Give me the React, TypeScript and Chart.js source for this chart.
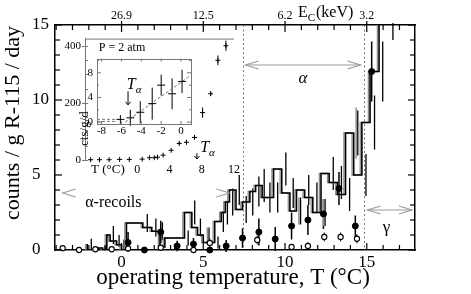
import React, { useEffect, useRef } from "react";
import { Chart, registerables } from "chart.js";

Chart.register(...registerables);

const SERIF = '"Liberation Serif", "Times New Roman", Times, serif';

// ---------- main axes ----------
const tempMin = -4.07;
const tempMax = 17.95;
const rateMin = 0;
const rateMax = 15;
const majorTemps = [0, 5, 10, 15];
const ecLabels = ["26.9", "12.5", "6.2", "3.2"];
const majorRates = [0, 5, 10, 15];

// ---------- histogram (black) ----------
const histEdges = [-2.1, -1.6, -1.15, -0.9, -0.7, -0.3, 0.0, 0.3, 1.3, 1.85, 2.35, 2.65, 3.85, 4.3, 4.65, 5.0, 5.7, 6.1, 6.35, 6.6, 7.0, 7.4, 7.85, 8.2, 8.6, 8.85, 9.3, 9.8, 10.3, 10.7, 11.2, 11.7, 12.2, 12.7, 13.2, 13.7, 14.2, 14.7, 15.2, 15.75, 16.2, 17.0];
const histCounts = [0.4, 0, 0.13, 0, 1.0, 0.6, 0.35, 0, 1.8, 1.5, 1.25, 0.2, 0.8, 2.5, 1.5, 1.0, 0.5, 1.9, 2.5, 3.2, 4.0, 2.7, 3.2, 3.9, 4.3, 3.5, 3.5, 5.4, 3.8, 2.6, 4.0, 3.5, 2.5, 5.1, 4.5, 3.7, 7.8, 5.0, 8.5, 11.9, 17];
const histErrors = [0.35, 0, 0.15, 0, 0.6, 0.4, 0.35, 0, 0.6, 0.6, 0.6, 0.2, 0.5, 0.8, 0.6, 0.5, 0.4, 0.7, 0.8, 0.9, 1.0, 0.9, 0.9, 1.0, 1.1, 1.0, 1.0, 1.1, 1.0, 0.9, 1.0, 1.0, 0.9, 1.1, 1.1, 1.1, 1.5, 1.4, 1.8, 2.0, 3.0];

// ---------- histogram (gray, second run) ----------
const grayEdges = [-2.2, -1.7, -1.25, -1.0, -0.8, -0.4, -0.1, 0.2, 1.2, 1.75, 2.25, 2.55, 3.75, 4.2, 4.55, 4.9, 5.6, 6.0, 6.25, 6.5, 6.9, 7.3, 7.75, 8.1, 8.5, 8.75, 9.2, 9.7, 10.2, 10.6, 11.1, 11.6, 12.1, 12.6, 13.1, 13.6, 14.1, 14.6, 15.1, 15.65, 16.1, 16.9];
const grayCounts = [0.4, 0, 0.13, 0, 1.0, 0.6, 0.35, 0, 1.8, 1.5, 1.25, 0.2, 0.8, 2.5, 1.5, 1.0, 0.5, 1.9, 2.5, 3.2, 4.0, 2.7, 3.2, 3.9, 4.3, 3.5, 3.5, 5.4, 3.8, 2.6, 4.0, 3.5, 2.5, 5.1, 4.5, 3.7, 7.8, 5.0, 8.5, 11.9, 17];
const grayErrors = [0, 0, 0, 0, 0, 0, 0, 0, 0, 0, 0, 0, 0, 0, 0, 0.5, 0, 0, 0, 0, 0, 0, 0, 0, 0, 0, 0, 0, 0, 0.9, 0, 0, 0.9, 0, 0, 0, 1.7, 0, 0, 0, 0];

// ---------- filled circles ----------
const filledTemps = [0.4, 1.4, 2.4, 3.4, 4.4, 5.4, 6.4, 7.4, 8.4, 9.4, 10.4, 11.4, 12.35, 13.3, 14.3, 15.3];
const filledRates = [0.5, 0.0, 1.2, 0.27, 0.4, 0.0, 0.27, 0.8, 1.2, 0.73, 1.6, 2.0, 2.4, 4.1, 1.6, 11.9];
const filledErrors = [0.7, 0.1, 0.75, 0.35, 0.4, 0.2, 0.4, 0.65, 0.9, 0.8, 0.9, 1.0, 1.0, 1.1, 0.7, 2.0];

// ---------- open circles ----------
const openTemps = [-3.6, -2.6, -1.6, -0.6, 0.4, 2.4, 4.4, 5.4, 8.3, 10.4, 11.4, 12.4, 13.4, 14.4];
const openRates = [0.12, 0.0, 0.05, 0.05, 0.1, 0.15, 0.0, 0.47, 0.67, 0.2, 0.27, 0.87, 0.87, 0.75];
const openErrors = [0.1, 0, 0.1, 0.1, 0.1, 0.15, 0.1, 0.3, 0.3, 0.2, 0.25, 0.3, 0.3, 0.3];

const regionBounds = [7.4, 14.8];

// ---------- outer inset (P = 2 atm) ----------
const insetTemps = [-5.8, -4.7, -3.5, -2.2, -1.0, 0.6, 1.5, 2.1, 2.5, 3.2, 4.2, 5.2, 6.1, 7.1, 8.1, 9.1, 10.0, 11.0];
const insetRates = [1, 1, 1, 2, 2, 3, 8, 8, 10, 17, 34, 58, 62, 79, 166, 232, 349, 400];
const insetErrors = [0, 0, 0, 0, 0, 0, 0, 0, 0, 0, 0, 4, 5, 6, 18, 8, 17, 18];
const insetTickLabels = [0, 4, 8, 12];
const insetRateLabels = [0, 200, 400];

// ---------- inner inset ----------
const innerTemps = [-6.1, -5.1, -4.1, -2.9, -2.0, -0.9, 0.1];
const innerRates = [0.45, 0.7, 1.6, 3.0, 6.0, 4.6, 6.6];
const innerErrors = [0.7, 1.3, 1.8, 2.6, 1.7, 2.5, 1.9];
const innerFitTemps = [-5.6, 0.9];
const innerFitRates = [0, 7.5];
const innerBaseTemps = [-8.45, -6.4];
const innerBaseHigh = [0.45, 0.45];
const innerBaseLow = [0.12, 0.12];
const innerRateLabels = [0, 4, 8];

const tAlphaInner = -5.33;
const tAlphaOuter = 7.4;

// ---------- helpers ----------
const near = (v: number, list: number[]) => list.findIndex((m) => Math.abs(v - m) < 1e-6);
const pts = (xs: number[], ys: number[]) => xs.map((x, i) => ({ x, y: ys[i] }));
function stepPoints(edges: number[], counts: number[]) {
  const p = [{ x: edges[0], y: 0 }];
  counts.forEach((c, i) => p.push({ x: edges[i], y: c }));
  p.push({ x: edges[edges.length - 1], y: counts[counts.length - 1] });
  return p;
}
function binCenters(edges: number[], counts: number[]) {
  return counts.map((c, i) => ({ x: (edges[i] + edges[i + 1]) / 2, y: c }));
}
const font = (size: number, style = "normal") => ({ family: SERIF, size, style });
const noGrid = { display: false, drawTicks: false };

function line(ctx: any, x1: number, y1: number, x2: number, y2: number) {
  ctx.beginPath();
  ctx.moveTo(x1, y1);
  ctx.lineTo(x2, y2);
  ctx.stroke();
}
function chevron(ctx: any, x: number, y: number, dir: number) {
  ctx.beginPath();
  ctx.moveTo(x - dir * 13, y - 4);
  ctx.lineTo(x, y);
  ctx.lineTo(x - dir * 13, y + 4);
  ctx.stroke();
}
function subText(ctx: any, x: number, y: number, main: string, sub: string, size: number, italic: boolean) {
  ctx.font = `${italic ? "italic " : ""}${size}px ${SERIF}`;
  ctx.textAlign = "left";
  ctx.textBaseline = "alphabetic";
  ctx.fillText(main, x, y);
  const w = ctx.measureText(main).width;
  ctx.font = `${italic ? "italic " : ""}${Math.round(size * 0.7)}px ${SERIF}`;
  ctx.fillText(sub, x + w, y + size * 0.25);
}

const errorBarPlugin = {
  id: "errorBars",
  beforeDatasetsDraw(chart: any) {
    const { ctx, chartArea: a } = chart;
    ctx.save();
    ctx.beginPath();
    ctx.rect(a.left, a.top - 2, a.right - a.left, a.bottom - a.top + 4);
    ctx.clip();
    chart.data.datasets.forEach((ds: any, i: number) => {
      if (!ds.errorBars) return;
      const meta = chart.getDatasetMeta(i);
      const xs = chart.scales[meta.xAxisID];
      const ys = chart.scales[meta.yAxisID];
      ctx.strokeStyle = ds.errorColor || "#000";
      ctx.lineWidth = ds.errorWidth || 1;
      ds.data.forEach((p: any, j: number) => {
        const e = ds.errorBars[j];
        if (!e) return;
        const x = xs.getPixelForValue(p.x);
        line(ctx, x, ys.getPixelForValue(p.y - e), x, ys.getPixelForValue(p.y + e));
      });
    });
    ctx.restore();
  },
};

const mainDecor = {
  id: "mainDecor",
  beforeDatasetsDraw(chart: any) {
    const { ctx, chartArea: a } = chart;
    const xs = chart.scales.x;
    ctx.save();
    ctx.strokeStyle = "#777";
    ctx.lineWidth = 1;
    ctx.setLineDash([2, 2.5]);
    regionBounds.forEach((t) => {
      const x = Math.round(xs.getPixelForValue(t)) + 0.5;
      line(ctx, x, a.top, x, a.bottom);
    });
    ctx.restore();
  },
  afterDraw(chart: any) {
    const { ctx, chartArea: a } = chart;
    const xs = chart.scales.x;
    const ys = chart.scales.y;
    const X = (v: number) => xs.getPixelForValue(v);
    const Y = (v: number) => ys.getPixelForValue(v);
    ctx.save();
    // inward tick marks
    ctx.strokeStyle = "#000";
    ctx.lineWidth = 1.2;
    xs.ticks.forEach((t: any) => {
      const x = X(t.value);
      const major = near(t.value, majorTemps) >= 0;
      const len = major ? 7 : 5;
      line(ctx, x, a.bottom, x, a.bottom - len);
      line(ctx, x, a.top, x, a.top + len);
      if (major) line(ctx, x, a.top, x, a.top - 4);
    });
    ys.ticks.forEach((t: any) => {
      const y = Y(t.value);
      const major = near(t.value, majorRates) >= 0;
      const len = major ? 7 : 5;
      line(ctx, a.left, y, a.left + len, y);
      line(ctx, a.right, y, a.right - len, y);
    });
    // arrows
    ctx.strokeStyle = "#999";
    ctx.lineWidth = 1.1;
    const ya = Y(12.33);
    const x1 = X(regionBounds[0]) + 3;
    const x2 = X(regionBounds[1]) - 3;
    line(ctx, x1, ya, x2, ya);
    chevron(ctx, x1, ya, -1);
    chevron(ctx, x2, ya, 1);
    const yr = Y(3.8);
    chevron(ctx, X(-3.6), yr, -1);
    chevron(ctx, X(6.6), yr, 1);
    const yg = Y(2.67);
    const g1 = X(regionBounds[1]) + 4;
    const g2 = a.right - 3;
    line(ctx, g1, yg, g2, yg);
    chevron(ctx, g1, yg, -1);
    chevron(ctx, g2, yg, 1);
    // labels
    ctx.fillStyle = "#000";
    ctx.textAlign = "center";
    ctx.textBaseline = "middle";
    ctx.font = `italic 17px ${SERIF}`;
    ctx.fillText("α", X(11.1), Y(11.4));
    ctx.font = `16px ${SERIF}`;
    ctx.fillText("α-recoils", X(-0.5), Y(3.13));
    ctx.font = `17px ${SERIF}`;
    ctx.fillText("γ", X(16.2), Y(1.5));
    subText(ctx, 298, 17, "E", "C", 16, false);
    ctx.font = `16px ${SERIF}`;
    ctx.textAlign = "left";
    ctx.fillText("(keV)", 316, 17);
    // axis titles
    ctx.font = `23px ${SERIF}`;
    ctx.textAlign = "center";
    ctx.textBaseline = "alphabetic";
    ctx.fillText("operating temperature, T (°C)", (a.left + a.right) / 2 - 2, 284);
    ctx.font = `22px ${SERIF}`;
    ctx.translate(19, 123);
    ctx.rotate(-Math.PI / 2);
    ctx.fillText("counts / g R-115 / day", 0, 0);
    ctx.restore();
  },
};

const outerDecor = {
  id: "outerDecor",
  afterDraw(chart: any) {
    const { ctx, chartArea: a } = chart;
    const xs = chart.scales.x;
    const ys = chart.scales.y;
    const X = (v: number) => xs.getPixelForValue(v);
    const Y = (v: number) => ys.getPixelForValue(v);
    ctx.save();
    ctx.strokeStyle = "#777";
    ctx.lineWidth = 1;
    line(ctx, a.left, a.top + 0.5, a.right, a.top + 0.5);
    ys.ticks.forEach((t: any) => {
      const y = Math.round(Y(t.value)) + 0.5;
      const major = near(t.value, insetRateLabels) >= 0;
      line(ctx, a.left - (major ? 3 : 0), y, a.left + 3, y);
    });
    ctx.fillStyle = "#000";
    ctx.textAlign = "center";
    ctx.textBaseline = "middle";
    ctx.font = `12px ${SERIF}`;
    ctx.fillText("P = 2 atm", X(-1.9), Y(393));
    ctx.font = `13px ${SERIF}`;
    ctx.fillText("T (°C)", X(-3.65), a.bottom + 10);
    ctx.save();
    ctx.translate(a.left - 0.5, Y(110));
    ctx.rotate(-Math.PI / 2);
    ctx.font = `13px ${SERIF}`;
    ctx.fillText("cts/g/d", 0, 0);
    ctx.restore();
    subText(ctx, X(7.8), Y(28), "T", "α", 16, true);
    ctx.strokeStyle = "#000";
    const xa = X(tAlphaOuter);
    line(ctx, xa, Y(24), xa, a.bottom - 1);
    ctx.beginPath();
    ctx.moveTo(xa - 2.5, a.bottom - 4);
    ctx.lineTo(xa, a.bottom - 1);
    ctx.lineTo(xa + 2.5, a.bottom - 4);
    ctx.stroke();
    ctx.restore();
  },
};

const innerDecor = {
  id: "innerDecor",
  afterDraw(chart: any) {
    const { ctx, chartArea: a } = chart;
    const xs = chart.scales.x;
    const ys = chart.scales.y;
    const X = (v: number) => xs.getPixelForValue(v);
    const Y = (v: number) => ys.getPixelForValue(v);
    ctx.save();
    ctx.strokeStyle = "#777";
    ctx.lineWidth = 1;
    ctx.strokeRect(Math.round(a.left) + 0.5, Math.round(a.top) + 0.5, Math.round(a.right - a.left), Math.round(a.bottom - a.top));
    xs.ticks.forEach((t: any) => {
      const x = X(t.value);
      line(ctx, x, a.bottom, x, a.bottom - 3);
      line(ctx, x, a.top, x, a.top + 3);
    });
    ys.ticks.forEach((t: any) => {
      const y = Y(t.value);
      const len = near(t.value, innerRateLabels) >= 0 ? 4 : 2;
      line(ctx, a.left, y, a.left + len, y);
      line(ctx, a.right, y, a.right - len, y);
    });
    ctx.fillStyle = "#000";
    subText(ctx, X(-5.45), Y(5.4), "T", "α", 16, true);
    ctx.strokeStyle = "#000";
    const xa = X(tAlphaInner);
    line(ctx, xa, Y(5.0), xa, Y(2.8));
    ctx.beginPath();
    ctx.moveTo(xa - 2.5, Y(2.8) - 3);
    ctx.lineTo(xa, Y(2.8));
    ctx.lineTo(xa + 2.5, Y(2.8) - 3);
    ctx.stroke();
    ctx.restore();
  },
};

function mainConfig(): any {
  return {
    type: "line",
    data: {
      datasets: [
        {
          data: pts(openTemps, openRates),
          errorBars: openErrors,
          showLine: false,
          pointRadius: 2.6,
          pointStyle: "circle",
          pointBackgroundColor: "#fff",
          pointBorderColor: "#000",
          pointBorderWidth: 1.1,
          clip: false,
        },
        {
          data: pts(filledTemps, filledRates),
          errorBars: filledErrors,
          errorWidth: 1.5,
          showLine: false,
          pointRadius: 3,
          pointStyle: "circle",
          pointBackgroundColor: "#000",
          pointBorderColor: "#000",
          pointBorderWidth: 1,
          clip: false,
        },
        {
          data: stepPoints(histEdges, histCounts),
          stepped: "after",
          borderColor: "#000",
          borderWidth: 1.6,
          pointRadius: 0,
          fill: false,
        },
        {
          data: binCenters(histEdges, histCounts),
          errorBars: histErrors,
          errorWidth: 1.3,
          showLine: false,
          pointRadius: 0,
        },
        {
          data: stepPoints(grayEdges, grayCounts),
          stepped: "after",
          borderColor: "#8c8c8c",
          borderWidth: 1.3,
          pointRadius: 0,
          fill: false,
        },
        {
          data: binCenters(grayEdges, grayCounts),
          errorBars: grayErrors,
          errorColor: "#8c8c8c",
          errorWidth: 1.5,
          showLine: false,
          pointRadius: 0,
        },
      ],
    },
    options: {
      responsive: false,
      animation: false,
      devicePixelRatio: 1,
      layout: { padding: { left: 32, right: 0, top: 0, bottom: 0 } },
      plugins: { legend: { display: false }, tooltip: { enabled: false } },
      scales: {
        x: {
          type: "linear",
          position: "bottom",
          min: tempMin,
          max: tempMax,
          grid: noGrid,
          border: { display: true, color: "#000", width: 1.5 },
          ticks: {
            stepSize: 1,
            autoSkip: false,
            includeBounds: false,
            maxRotation: 0,
            padding: 2,
            color: "#000",
            font: font(17),
            callback: (v: number) => (near(v, majorTemps) >= 0 ? String(Math.round(v)) : ""),
          },
          afterFit: (s: any) => {
            s.height = 44;
          },
        },
        x2: {
          type: "linear",
          position: "top",
          min: tempMin,
          max: tempMax,
          grid: noGrid,
          border: { display: true, color: "#000", width: 1.5 },
          ticks: {
            stepSize: 1,
            autoSkip: false,
            includeBounds: false,
            maxRotation: 0,
            padding: 2,
            color: "#000",
            font: font(12),
            callback: (v: number) => {
              const i = near(v, majorTemps);
              return i >= 0 ? ecLabels[i] : "";
            },
          },
          afterFit: (s: any) => {
            s.height = 25;
          },
        },
        y: {
          type: "linear",
          position: "left",
          min: rateMin,
          max: rateMax,
          grid: noGrid,
          border: { display: true, color: "#000", width: 1.5 },
          ticks: {
            stepSize: 1,
            autoSkip: false,
            crossAlign: "far",
            padding: 0,
            color: "#000",
            font: font(17),
            callback: (v: number) => (near(v, majorRates) >= 0 ? String(Math.round(v)) : ""),
          },
          afterFit: (s: any) => {
            s.width = 23;
          },
        },
        y2: {
          type: "linear",
          position: "right",
          min: rateMin,
          max: rateMax,
          grid: noGrid,
          border: { display: true, color: "#000", width: 1.5 },
          ticks: { display: false, stepSize: 1 },
          afterFit: (s: any) => {
            s.width = 56;
          },
        },
      },
    },
    plugins: [errorBarPlugin, mainDecor],
  };
}

function outerConfig(): any {
  return {
    type: "line",
    data: {
      datasets: [
        {
          data: pts(insetTemps, insetRates),
          errorBars: insetErrors,
          showLine: false,
          pointStyle: "cross",
          pointRadius: 2.5,
          pointBorderColor: "#000",
          pointBorderWidth: 1,
          clip: false,
        },
      ],
    },
    options: {
      responsive: false,
      animation: false,
      devicePixelRatio: 1,
      layout: { padding: { left: 0, right: 12, top: 8, bottom: 0 } },
      plugins: { legend: { display: false }, tooltip: { enabled: false } },
      scales: {
        x: {
          type: "linear",
          min: -6.5,
          max: 12,
          grid: noGrid,
          border: { display: false },
          ticks: {
            stepSize: 4,
            autoSkip: false,
            includeBounds: false,
            maxRotation: 0,
            padding: 3,
            color: "#000",
            font: font(12),
            callback: (v: number) => (near(v, insetTickLabels) >= 0 ? String(Math.round(v)) : ""),
          },
          afterFit: (s: any) => {
            s.height = 20;
          },
        },
        y: {
          type: "linear",
          min: 0,
          max: 425,
          grid: noGrid,
          border: { display: true, color: "#777", width: 1 },
          ticks: {
            stepSize: 50,
            autoSkip: false,
            includeBounds: false,
            padding: 4,
            color: "#000",
            font: font(11),
            callback: (v: number) => (near(v, insetRateLabels) >= 0 ? String(Math.round(v)) : ""),
          },
          afterFit: (s: any) => {
            s.width = 25;
          },
        },
      },
    },
    plugins: [errorBarPlugin, outerDecor],
  };
}

function innerConfig(): any {
  return {
    type: "line",
    data: {
      datasets: [
        {
          data: pts(innerTemps, innerRates),
          errorBars: innerErrors,
          showLine: false,
          pointStyle: "line",
          pointRadius: 4,
          pointBorderColor: "#000",
          pointBorderWidth: 1,
          clip: false,
        },
        {
          data: pts(innerFitTemps, innerFitRates),
          borderColor: "#777",
          borderWidth: 1,
          borderDash: [3, 2],
          pointRadius: 0,
        },
        {
          data: pts(innerBaseTemps, innerBaseHigh),
          borderColor: "#777",
          borderWidth: 1,
          borderDash: [3, 2],
          pointRadius: 0,
        },
        {
          data: pts(innerBaseTemps, innerBaseLow),
          borderColor: "#777",
          borderWidth: 1,
          borderDash: [3, 2],
          pointRadius: 0,
        },
      ],
    },
    options: {
      responsive: false,
      animation: false,
      devicePixelRatio: 1,
      layout: { padding: { left: 0, right: 7, top: 7, bottom: 0 } },
      plugins: { legend: { display: false }, tooltip: { enabled: false } },
      scales: {
        x: {
          type: "linear",
          min: -8.45,
          max: 1.0,
          grid: noGrid,
          border: { display: false },
          ticks: {
            stepSize: 2,
            autoSkip: false,
            includeBounds: false,
            maxRotation: 0,
            padding: 1,
            color: "#000",
            font: font(11),
            callback: (v: number) => String(Math.round(v)),
          },
          afterFit: (s: any) => {
            s.height = 18;
          },
        },
        y: {
          type: "linear",
          min: -0.3,
          max: 10.3,
          grid: noGrid,
          border: { display: false },
          ticks: {
            stepSize: 2,
            autoSkip: false,
            includeBounds: false,
            padding: 4,
            color: "#000",
            font: font(11),
            callback: (v: number) => (near(v, innerRateLabels) >= 0 ? String(Math.round(v)) : ""),
          },
          afterFit: (s: any) => {
            s.width = 19;
          },
        },
      },
    },
    plugins: [errorBarPlugin, innerDecor],
  };
}

export default function App() {
  const mainRef = useRef<HTMLCanvasElement>(null);
  const outerRef = useRef<HTMLCanvasElement>(null);
  const innerRef = useRef<HTMLCanvasElement>(null);

  useEffect(() => {
    const charts: Chart[] = [];
    if (mainRef.current) charts.push(new Chart(mainRef.current, mainConfig()));
    if (outerRef.current) charts.push(new Chart(outerRef.current, outerConfig()));
    if (innerRef.current) charts.push(new Chart(innerRef.current, innerConfig()));
    return () => charts.forEach((c) => c.destroy());
  }, []);

  return (
    <div style={{ position: "fixed", left: 0, top: 0, width: 471, height: 294, background: "#fff", overflow: "hidden" }}>
      <canvas ref={mainRef} width={471} height={294} style={{ position: "absolute", left: 0, top: 0, width: 471, height: 294 }} />
      <canvas ref={outerRef} width={186} height={152} style={{ position: "absolute", left: 60, top: 28, width: 186, height: 152 }} />
      <canvas ref={innerRef} width={120} height={94} style={{ position: "absolute", left: 78, top: 48, width: 120, height: 94 }} />
    </div>
  );
}
